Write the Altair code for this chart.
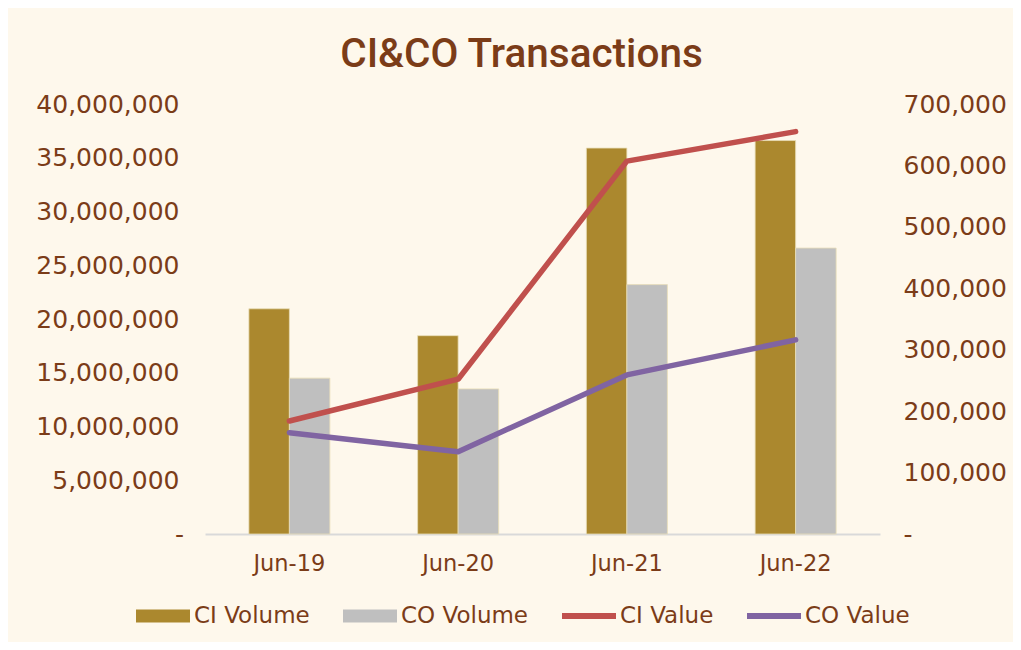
import altair as alt
import pandas as pd

# ---- data ----
periods = ["Jun-19", "Jun-20", "Jun-21", "Jun-22"]
ci_volume = [20950000, 18450000, 35900000, 36600000]
co_volume = [14500000, 13500000, 23200000, 26600000]
ci_value = [184000, 252000, 607000, 655000]
co_value = [165000, 134000, 259000, 316000]

series_names = ["CI Volume", "CO Volume", "CI Value", "CO Value"]
series_colors = ["#AB882E", "#BFBFBF", "#C0504D", "#8064A2"]
left_ticks = [0, 5000000, 10000000, 15000000, 20000000, 25000000, 30000000, 35000000, 40000000]
right_ticks = [0, 100000, 200000, 300000, 400000, 500000, 600000, 700000]

TEXT = "#7B3C18"
BG = "#FEF8EC"
TICK_FONT = "DejaVu Sans"

bars_df = pd.DataFrame(
    [{"period": p, "series": "CI Volume", "v": v} for p, v in zip(periods, ci_volume)]
    + [{"period": p, "series": "CO Volume", "v": v} for p, v in zip(periods, co_volume)]
)
lines_df = pd.DataFrame(
    [{"period": p, "series": "CI Value", "v": v} for p, v in zip(periods, ci_value)]
    + [{"period": p, "series": "CO Value", "v": v} for p, v in zip(periods, co_value)]
)
legend_df = pd.DataFrame({"series": series_names})

x_enc = alt.X(
    "period:N",
    sort=periods,
    title=None,
    scale=alt.Scale(paddingInner=0.52, paddingOuter=0.26),
    axis=alt.Axis(
        labelAngle=0,
        ticks=False,
        domain=True,
        domainColor="#D9D9D9",
        domainWidth=2,
        labelPadding=18,
        labelFont=TICK_FONT,
        labelFontSize=22.5,
        labelColor=TEXT,
        grid=False,
    ),
)

bars = alt.Chart(bars_df).mark_bar(stroke="#E9DDB8", strokeWidth=0.8).encode(
    x=x_enc,
    xOffset=alt.XOffset("series:N", sort=["CI Volume", "CO Volume"], scale=alt.Scale(paddingInner=0, paddingOuter=0)),
    y=alt.Y(
        "v:Q",
        title=None,
        scale=alt.Scale(domain=[0, 40000000], nice=False),
        axis=alt.Axis(
            orient="left",
            values=left_ticks,
            labelExpr="datum.value == 0 ? '-' : format(datum.value, ',.0f')",
            labelAlign=alt.expr("datum.value == 0 ? 'center' : 'right'"),
            domain=False,
            ticks=False,
            grid=False,
            labelPadding=26,
            labelFont=TICK_FONT,
            labelFontSize=25,
            labelColor=TEXT,
        ),
    ),
    fill=alt.Fill(
        "series:N",
        scale=alt.Scale(domain=["CI Volume", "CO Volume"], range=series_colors[:2]),
        legend=None,
    ),
)

lines = alt.Chart(lines_df).mark_line(strokeWidth=5.5, strokeCap="round", strokeJoin="round").encode(
    x=x_enc,
    y=alt.Y(
        "v:Q",
        title=None,
        scale=alt.Scale(domain=[0, 700000], nice=False),
        axis=alt.Axis(
            orient="right",
            values=right_ticks,
            labelExpr="datum.value == 0 ? '-' : format(datum.value, ',.0f')",
            domain=False,
            ticks=False,
            grid=False,
            labelPadding=23,
            labelFont=TICK_FONT,
            labelFontSize=25,
            labelColor=TEXT,
        ),
    ),
    stroke=alt.Stroke(
        "series:N",
        scale=alt.Scale(domain=["CI Value", "CO Value"], range=series_colors[2:]),
        legend=None,
    ),
    detail="series:N",
)

rect_path = "M-1,-0.24H1V0.24H-1Z"
line_path = "M-1,-0.11H1V0.11H-1Z"

legend_layer = alt.Chart(legend_df).transform_filter("false").mark_point(filled=True, opacity=1).encode(
    color=alt.Color(
        "series:N",
        scale=alt.Scale(domain=series_names, range=series_colors),
        legend=alt.Legend(title=None),
    ),
    shape=alt.Shape(
        "series:N",
        scale=alt.Scale(domain=series_names, range=[rect_path, rect_path, line_path, line_path]),
        legend=alt.Legend(title=None),
    ),
)

chart = (
    alt.layer(bars, lines, legend_layer)
    .resolve_scale(y="independent")
    .properties(
        width=675,
        height=430,
        autosize=alt.AutoSizeParams(type="none"),
        padding={"left": 197, "top": 96, "right": 133, "bottom": 108},
        background=BG,
        title=alt.TitleParams(
            text="CI&CO Transactions",
            font="Roboto",
            fontSize=40.5,
            fontWeight=500,
            color=TEXT,
            anchor="middle",
            dx=-21,
            offset=17,
        ),
    )
    .configure_view(stroke=None)
    .configure_legend(
        orient="none",
        legendX=-69,
        legendY=485,
        direction="horizontal",
        symbolSize=2916,
        symbolStrokeWidth=0,
        labelFont=TICK_FONT,
        labelFontSize=23,
        labelColor=TEXT,
        labelOffset=4,
        columnPadding=33,
    )
)

chart.save("out.html", embed_options={"renderer": "svg", "actions": False})
